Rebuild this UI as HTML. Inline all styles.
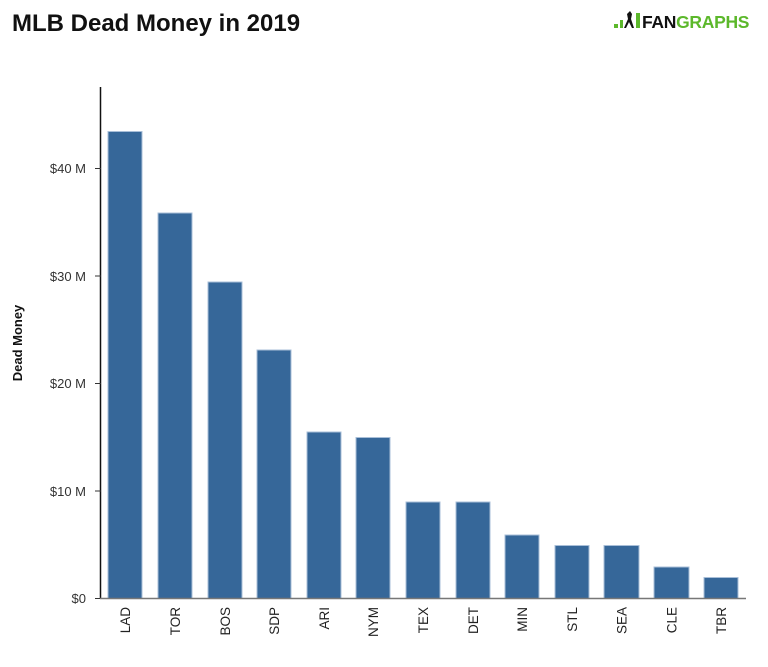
<!DOCTYPE html>
<html><head><meta charset="utf-8"><style>
body{margin:0;background:#fff;}
svg{display:block;font-family:"Liberation Sans",sans-serif;}
</style></head><body>
<svg width="768" height="667" viewBox="0 0 768 667" xmlns="http://www.w3.org/2000/svg">
<text x="12" y="31" font-size="24" font-weight="bold" fill="#111">MLB Dead Money in 2019</text>
<g>
<rect x="614" y="24" width="4" height="4" fill="#5cb82b"/>
<rect x="620" y="20" width="3" height="8" fill="#5cb82b"/>
<path d="M624 28 L628 19 L627 14 L630 11 L632 14 L631 19 L634 28 L632 28 L629 22 L626 28Z" fill="#111"/>
<rect x="636" y="13" width="4" height="15" fill="#5cb82b"/>
<text x="642" y="28" font-size="17.5" font-weight="bold" fill="#111" letter-spacing="-0.3">FAN<tspan fill="#5cb82b">GRAPHS</tspan></text>
</g>
<text transform="translate(22,343) rotate(-90)" text-anchor="middle" font-size="13" font-weight="bold" fill="#111">Dead Money</text>
<line x1="100.5" y1="87" x2="100.5" y2="599" stroke="#111" stroke-width="1.5"/>
<g font-size="13" fill="#333" text-anchor="end">
<text x="86" y="603">$0</text><line x1="95" y1="598.5" x2="101" y2="598.5" stroke="#333"/>
<text x="86" y="496">$10 M</text><line x1="95" y1="491" x2="101" y2="491" stroke="#333"/>
<text x="86" y="388">$20 M</text><line x1="95" y1="383.5" x2="101" y2="383.5" stroke="#333"/>
<text x="86" y="281">$30 M</text><line x1="95" y1="276" x2="101" y2="276" stroke="#333"/>
<text x="86" y="173">$40 M</text><line x1="95" y1="168.5" x2="101" y2="168.5" stroke="#333"/>
</g>
<g fill="#366799" stroke="#a9bfd8" stroke-width="1">
<rect x="108" y="131.5" width="34" height="467"/>
<rect x="158" y="213" width="34" height="385.5"/>
<rect x="208" y="282" width="34" height="316.5"/>
<rect x="257" y="350" width="34" height="248.5"/>
<rect x="307" y="432" width="34" height="166.5"/>
<rect x="356" y="437.5" width="34" height="161"/>
<rect x="406" y="502" width="34" height="96.5"/>
<rect x="456" y="502" width="34" height="96.5"/>
<rect x="505" y="535" width="34" height="63.5"/>
<rect x="555" y="545.5" width="34" height="53"/>
<rect x="604" y="545.5" width="35" height="53"/>
<rect x="654" y="567" width="35" height="31.5"/>
<rect x="704" y="577.5" width="34" height="21"/>
</g>
<line x1="100" y1="598.5" x2="746" y2="598.5" stroke="#777" stroke-width="1.5"/>
<g font-size="13.5" fill="#222" text-anchor="end">
<text transform="translate(130,607) rotate(-90)">LAD</text>
<text transform="translate(180,607) rotate(-90)">TOR</text>
<text transform="translate(230,607) rotate(-90)">BOS</text>
<text transform="translate(279,607) rotate(-90)">SDP</text>
<text transform="translate(329,607) rotate(-90)">ARI</text>
<text transform="translate(378,607) rotate(-90)">NYM</text>
<text transform="translate(428,607) rotate(-90)">TEX</text>
<text transform="translate(478,607) rotate(-90)">DET</text>
<text transform="translate(527,607) rotate(-90)">MIN</text>
<text transform="translate(577,607) rotate(-90)">STL</text>
<text transform="translate(626.5,607) rotate(-90)">SEA</text>
<text transform="translate(676.5,607) rotate(-90)">CLE</text>
<text transform="translate(726,607) rotate(-90)">TBR</text>
</g>
</svg>
</body></html>
